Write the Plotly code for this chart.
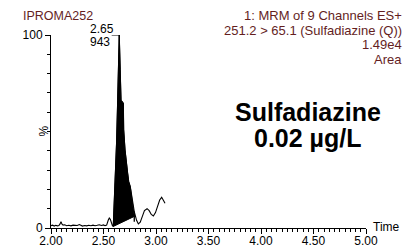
import plotly.graph_objects as go

# ---------------- data ----------------
time = [2.000, 2.015, 2.030, 2.045, 2.060, 2.075, 2.085, 2.095, 2.105, 2.115,
        2.130, 2.150, 2.170, 2.190, 2.210, 2.230, 2.250, 2.270, 2.285, 2.300,
        2.320, 2.340, 2.360, 2.380, 2.400, 2.420, 2.440, 2.460, 2.480, 2.500,
        2.515, 2.530, 2.545, 2.555, 2.565, 2.575, 2.585, 2.593, 2.610, 2.625,
        2.635, 2.643, 2.650, 2.659, 2.667, 2.678, 2.689, 2.692, 2.697, 2.705,
        2.730, 2.740, 2.755, 2.784, 2.793, 2.800, 2.815, 2.832, 2.850, 2.870,
        2.890, 2.915, 2.935, 2.955, 2.975, 2.995, 3.015, 3.035, 3.054, 3.070,
        3.086]
intensity = [1.2, 1.5, 1.0, 1.4, 1.1, 1.3, 2.0, 3.2, 2.0, 1.5,
             1.7, 1.2, 1.4, 1.1, 1.5, 1.2, 1.3, 1.8, 1.2, 1.0,
             1.3, 1.1, 1.4, 1.2, 1.5, 1.2, 1.4, 1.7, 1.3, 1.6,
             1.2, 1.5, 4.0, 5.2, 4.5, 2.5, 1.2, 0.8, 22.0, 45.0,
             66.0, 85.0, 100.0, 82.0, 66.0, 65.5, 64.5, 51.0, 43.0, 40.4,
             28.3, 24.0, 21.4, 9.3, 8.5, 7.0, 4.0, 2.1, 3.0, 6.0,
             9.0, 10.0, 9.0, 7.0, 6.2, 8.0, 11.5, 14.5, 15.9, 14.5,
             12.8]

baseline_time = [2.593, 2.793]
baseline_int = [0.8, 6.0]
drop_int = [3.3, 8.5]

apex_time_label = "2.65"
apex_height_label = "943"

header_left = "IPROMA252"
header_right = ["1: MRM of 9 Channels ES+", "251.2 > 65.1 (Sulfadiazine (Q))", "1.49e4", "Area"]
compound = ["Sulfadiazine", "0.02 µg/L"]

x_ticks = [2.0, 2.5, 3.0, 3.5, 4.0, 4.5, 5.0]
x_tick_text = ["2.00", "2.50", "3.00", "3.50", "4.00", "4.50", "5.00"]
y_ticks = [0, 100]

# ---------------- figure ----------------
MAROON = "#641e1e"
FONT = "Arial, Liberation Sans, sans-serif"

fig = go.Figure()

# integrated area (black fill between trace and baseline)
pk_t = [t for t in time if baseline_time[0] <= t <= baseline_time[1]]
pk_i = [v for t, v in zip(time, intensity) if baseline_time[0] <= t <= baseline_time[1]]
poly_x = pk_t + [baseline_time[1], baseline_time[0]]
poly_y = pk_i + [baseline_int[1], baseline_int[0]]
fig.add_trace(go.Scatter(x=poly_x, y=poly_y, fill="toself", fillcolor="black",
                         mode="lines", line=dict(color="black", width=1),
                         hoverinfo="skip", showlegend=False))

# chromatogram trace
fig.add_trace(go.Scatter(x=time, y=intensity, mode="lines",
                         line=dict(color="black", width=1.1),
                         showlegend=False, cliponaxis=False))

# drop line at integration end
fig.add_trace(go.Scatter(x=[baseline_time[1], baseline_time[1]], y=drop_int, mode="lines",
                         line=dict(color="black", width=1.3), showlegend=False))

apex_idx = intensity.index(max(intensity))
apex_t = time[apex_idx]
apex_v = intensity[apex_idx]
fig.add_shape(type="line", x0=apex_t - 0.072, x1=apex_t, y0=apex_v, y1=apex_v,
              xref="x", yref="y", line=dict(color="black", width=1))

annotations = []
annotations.append(dict(x=apex_t - 0.298, y=apex_v, xref="x", yref="y",
                        text=apex_time_label, showarrow=False, xanchor="left",
                        yanchor="middle", yshift=6, font=dict(size=12, color="black", family=FONT)))
annotations.append(dict(x=apex_t - 0.298, y=apex_v, xref="x", yref="y",
                        text=apex_height_label, showarrow=False, xanchor="left",
                        yanchor="middle", yshift=-7, font=dict(size=12, color="black", family=FONT)))

annotations.append(dict(x=0, y=1, xref="paper", yref="paper", text=header_left,
                        showarrow=False, xanchor="left", yanchor="middle",
                        xshift=-30, yshift=35 - 15.5,
                        font=dict(size=12.5, color=MAROON, family=FONT)))
right_y = [15.5, 30.5, 44.5, 59.5]
for txt, py in zip(header_right, right_y):
    annotations.append(dict(x=1, y=1, xref="paper", yref="paper", text=txt,
                            showarrow=False, xanchor="right", yanchor="middle",
                            xshift=38, yshift=35 - py,
                            font=dict(size=13, color=MAROON, family=FONT)))

for txt, py in zip(compound, [112, 137.5]):
    annotations.append(dict(x=(308 - 51) / 315, y=1, xref="paper", yref="paper", text="<b>%s</b>" % txt,
                            showarrow=False, xanchor="center", yanchor="middle",
                            yshift=35 - py,
                            font=dict(size=25, color="black", family=FONT)))

annotations.append(dict(x=1, y=0, xref="paper", yref="paper", text="Time",
                        showarrow=False, xanchor="left", yanchor="middle",
                        xshift=5, yshift=1,
                        font=dict(size=12, color="black", family=FONT)))
annotations.append(dict(x=0, y=0.5, xref="paper", yref="paper", text="%",
                        showarrow=False, xanchor="center", yanchor="middle",
                        xshift=-8, textangle=-90,
                        font=dict(size=12, color="black", family=FONT)))

fig.update_layout(
    template="none",
    width=407, height=248,
    margin=dict(l=51, r=41, t=35, b=20, autoexpand=False),
    paper_bgcolor="white", plot_bgcolor="white",
    annotations=annotations,
    font=dict(family=FONT, size=12, color="black"),
)
fig.update_xaxes(range=[2.0, 5.0], tickvals=x_ticks, ticktext=x_tick_text, automargin=False,
                 showgrid=False, zeroline=False, showline=True, linecolor="black", linewidth=1,
                 ticks="outside", ticklen=5, tickwidth=1, tickcolor="black", ticklabelstandoff=-3,
                 minor=dict(dtick=0.05, ticks="outside", ticklen=3, tickcolor="black", showgrid=False),
                 tickfont=dict(size=12, color="black", family=FONT))
fig.update_yaxes(range=[0, 100], tickvals=y_ticks, automargin=False,
                 showgrid=False, zeroline=False, showline=True, linecolor="black", linewidth=1,
                 ticks="outside", ticklen=5, tickwidth=1, tickcolor="black",
                 minor=dict(dtick=10, ticks="outside", ticklen=3, tickcolor="black", showgrid=False),
                 tickfont=dict(size=12, color="black", family=FONT))

fig.write_html("out.html", config={"displayModeBar": False},
               post_script="document.body.style.margin='0';document.body.style.overflow='hidden';")
